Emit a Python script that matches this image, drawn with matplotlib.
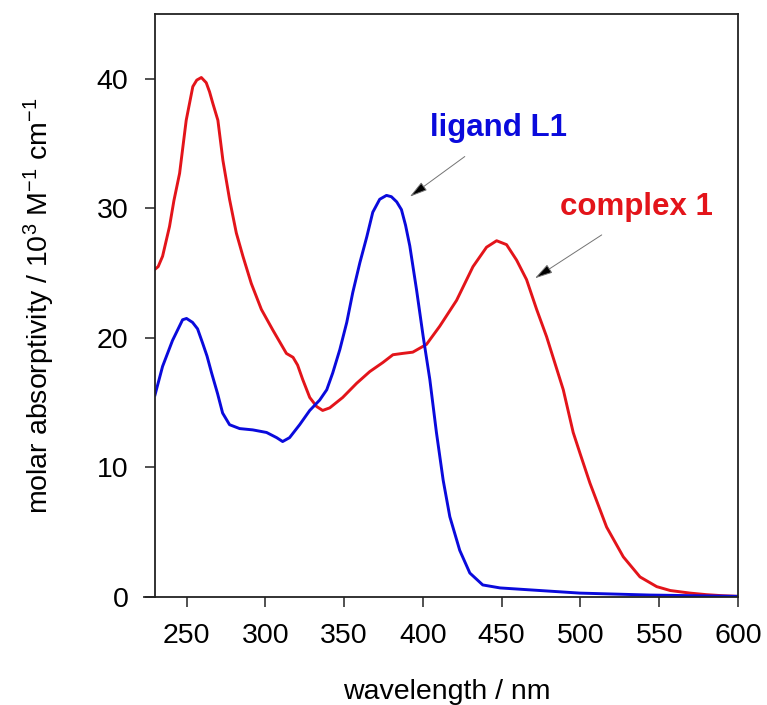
import matplotlib
matplotlib.use("Agg")
import matplotlib.pyplot as plt

plt.rcParams["font.family"] = ["Liberation Sans", "DejaVu Sans"]
plt.rcParams["mathtext.fontset"] = "custom"
plt.rcParams["mathtext.rm"] = "Liberation Sans"
plt.rcParams["mathtext.it"] = "Liberation Sans"
plt.rcParams["mathtext.default"] = "regular"

# complex 1 (red)
wl_complex = [230, 232, 234.8, 239.2, 242, 245.6, 249.8, 254, 256.5, 259.4, 262.5, 264.6,
              266.7, 269.9, 273.1, 277.3, 281.6, 285.8, 291.1, 297.5, 304.8, 313.4,
              317.6, 320.5, 323.7, 328.2, 332.6, 336.4, 340.9, 349.1, 358, 366.3,
              374.6, 381, 387, 393.6, 402.3, 410.7, 421.4, 431.8, 440.4, 446.8, 453.1,
              459.5, 465.8, 472.2, 478.5, 489.1, 495.4, 499.7, 506, 516.6, 527.2,
              537.8, 548.4, 557, 569.6, 580, 590, 600]
eps_complex = [25.3, 25.5, 26.3, 28.6, 30.6, 32.7, 36.8, 39.4, 39.9, 40.1, 39.7, 39.0,
               38.1, 36.8, 33.7, 30.7, 28.1, 26.3, 24.2, 22.2, 20.6, 18.8,
               18.5, 17.9, 16.8, 15.4, 14.7, 14.4, 14.6, 15.4, 16.5, 17.4,
               18.1, 18.7, 18.8, 18.9, 19.5, 20.9, 22.9, 25.5, 27.0, 27.5, 27.2,
               26.0, 24.5, 22.2, 20.1, 16.0, 12.7, 11.1, 8.8, 5.4, 3.1,
               1.55, 0.8, 0.5, 0.3, 0.18, 0.1, 0.05]

# ligand L1 (blue)
wl_ligand = [230, 234.8, 241.1, 247.5, 250, 253.8, 257, 260.2, 263, 265.9, 269.7, 272.9,
             277.3, 283.7, 292, 300.8, 307.2, 311, 315.4, 321.8, 328.2, 334.5, 339,
             342.8, 347.3, 351.7, 355.5, 360, 364.4, 368.2, 372.6, 376.9, 380, 383.4,
             386.4, 389, 391.7, 396, 400.2, 404.4, 408.6, 412.9, 417.1, 423.4, 429.8,
             438, 449, 480.6, 499.7, 544, 600]
eps_ligand = [15.6, 17.8, 19.8, 21.4, 21.5, 21.2, 20.7, 19.6, 18.6, 17.3, 15.7, 14.2,
              13.3, 13.0, 12.9, 12.7, 12.3, 12.0, 12.3, 13.3, 14.4, 15.2, 16.0,
              17.3, 19.1, 21.2, 23.5, 25.8, 27.8, 29.7, 30.7, 31.0, 30.9, 30.5,
              29.9, 28.7, 27.1, 23.7, 20.1, 16.8, 12.7, 9.0, 6.2, 3.6, 1.85,
              0.93, 0.7, 0.45, 0.3, 0.15, 0.05]

x_ticks = [250, 300, 350, 400, 450, 500, 550, 600]
y_ticks = [0, 10, 20, 30, 40]

red = "#e3141a"
blue = "#0a0adc"

fig = plt.figure(figsize=(7.67, 7.05), dpi=100)
ax = fig.add_axes([0.2021, 0.1532, 0.7601, 0.8269])

ax.plot(wl_complex, eps_complex, color=red, lw=2.1)
ax.plot(wl_ligand, eps_ligand, color=blue, lw=2.1)

ax.set_xlim(230, 600)
ax.set_ylim(0, 45)
ax.set_xticks(x_ticks)
ax.set_yticks(y_ticks)
ax.tick_params(direction="out", length=7.5, width=1.1, labelsize=20.5, pad=11.5,
               top=False, right=False, color="#222222")
for s in ax.spines.values():
    s.set_linewidth(1.3)
    s.set_color("#222222")
# bottom axis line runs a bit past the left spine
ax.plot([-0.0195, 0], [0, 0], transform=ax.transAxes, color="#222222", lw=1.3,
        clip_on=False)

ax.set_xlabel("wavelength / nm", fontsize=20.5, labelpad=21)
ax.set_ylabel("molar absorptivity / 10$^3$ M$^{\u22121}$ cm$^{\u22121}$", fontsize=20.5,
              labelpad=29)

arrow = dict(arrowstyle="-|>,head_length=1.1,head_width=0.3", ec="0.45", fc="black",
             lw=0.7, shrinkA=0, shrinkB=0)
ax.annotate("", xy=(391.7, 30.9), xytext=(426.6, 34.0), arrowprops=arrow)
ax.annotate("", xy=(471.1, 24.6), xytext=(513.5, 27.95), arrowprops=arrow)
ax.text(448.3, 36.2, "ligand L1", color=blue, fontsize=22.5, fontweight="bold",
        ha="center", va="center")
ax.text(535.6, 30.1, "complex 1", color=red, fontsize=22.5, fontweight="bold",
        ha="center", va="center")

fig.savefig("out.png", dpi=100)
